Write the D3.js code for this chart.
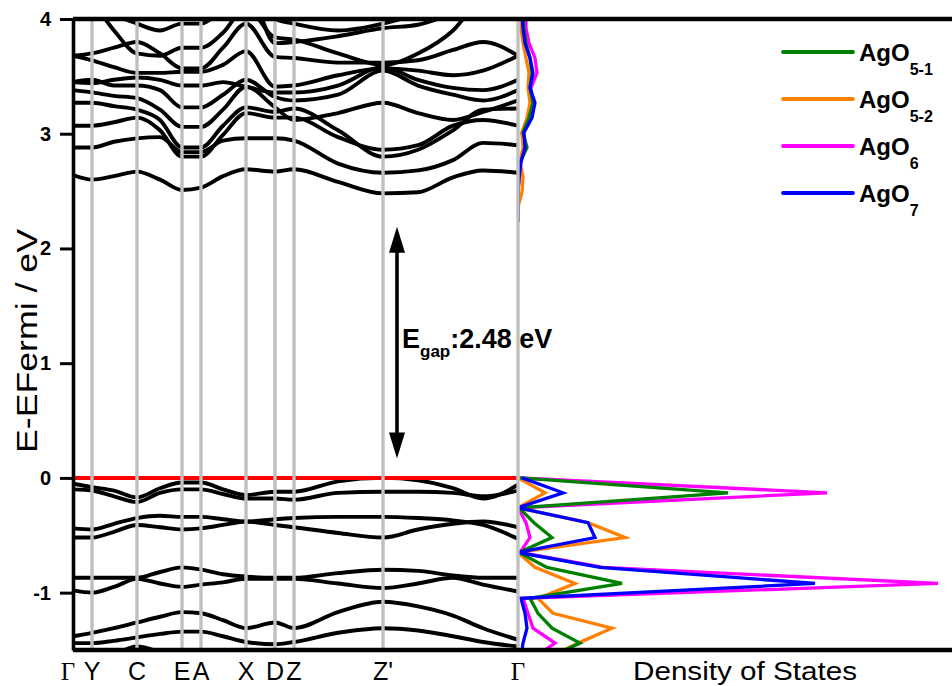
<!DOCTYPE html>
<html>
<head>
<meta charset="utf-8">
<script src="https://cdn.jsdelivr.net/npm/d3@7"></script>
<style>
  body { margin: 0; background: #fff; }
  svg { display: block; font-family: "Liberation Sans", Arial, Helvetica, sans-serif; }
</style>
</head>
<body>
<svg id="chart" width="952" height="686"></svg>
<script>
// ---- k-path: high-symmetry points (path coordinate) ----
const kLabels = ["\u0393", "Y", "C", "E", "A", "X", "D", "Z", "Z'", "\u0393"];
const kTicks  = [0, 19, 64, 109, 128, 173, 202, 221, 310, 445];
// sampling nodes along the path used for every band
const kNodes  = [0, 19, 41, 64, 87, 109, 128, 150, 173, 202, 221, 265, 310, 345, 380, 410, 445];

// ---- valence bands (eV, relative to E_Fermi) ----
const valenceBands = [
  [-0.05, -0.08, -0.11, -0.17, -0.09, -0.04, -0.04, -0.10, -0.15, -0.12, -0.12, -0.03, 0.00, -0.02, -0.09, -0.18, -0.06],
  [-0.10, -0.11, -0.16, -0.21, -0.13, -0.10, -0.10, -0.14, -0.18, -0.18, -0.19, -0.13, -0.12, -0.12, -0.13, -0.16, -0.11],
  [-0.44, -0.45, -0.40, -0.35, -0.33, -0.34, -0.34, -0.36, -0.38, -0.36, -0.35, -0.34, -0.34, -0.35, -0.37, -0.41, -0.53],
  [-0.52, -0.52, -0.47, -0.41, -0.43, -0.45, -0.44, -0.41, -0.38, -0.41, -0.43, -0.48, -0.52, -0.45, -0.40, -0.38, -0.43],
  [-0.87, -0.87, -0.87, -0.87, -0.82, -0.78, -0.80, -0.84, -0.86, -0.87, -0.87, -0.83, -0.80, -0.81, -0.85, -0.87, -0.87],
  [-0.98, -1.00, -0.95, -0.88, -0.92, -0.95, -0.93, -0.91, -0.88, -0.88, -0.88, -0.92, -0.96, -0.92, -0.87, -0.93, -0.99],
  [-1.38, -1.35, -1.31, -1.26, -1.21, -1.17, -1.18, -1.24, -1.31, -1.26, -1.31, -1.17, -1.08, -1.12, -1.20, -1.31, -1.41],
  [-1.44, -1.44, -1.42, -1.39, -1.36, -1.34, -1.34, -1.38, -1.43, -1.45, -1.43, -1.35, -1.31, -1.33, -1.38, -1.43, -1.47],
  [-1.63, -1.60, -1.54, -1.47, -1.52, -1.59, -1.62, -1.65, -1.68, -1.65, -1.65, -1.62, -1.60, -1.60, -1.60, -1.55, -1.51]
];

// ---- conduction bands (eV) ----
const conductionBands = [
  [2.64, 2.60, 2.63, 2.67, 2.60, 2.51, 2.53, 2.63, 2.69, 2.67, 2.69, 2.58, 2.48, 2.49, 2.62, 2.68, 2.66],
  [2.88, 2.88, 2.93, 2.96, 2.97, 2.84, 2.84, 2.94, 2.96, 2.96, 2.94, 2.74, 2.66, 2.68, 2.77, 2.92, 2.90],
  [3.07, 3.07, 3.10, 3.14, 3.03, 2.80, 2.80, 2.99, 3.18, 3.14, 3.14, 2.97, 2.86, 2.90, 3.07, 3.12, 3.07],
  [3.27, 3.27, 3.24, 3.21, 3.12, 2.88, 2.88, 3.07, 3.23, 3.19, 3.22, 3.03, 2.80, 2.86, 3.03, 3.21, 3.22],
  [3.38, 3.36, 3.33, 3.31, 3.21, 3.06, 3.06, 3.21, 3.41, 3.23, 3.12, 3.18, 3.27, 3.18, 3.12, 3.19, 3.29],
  [3.45, 3.47, 3.42, 3.42, 3.38, 3.23, 3.23, 3.34, 3.47, 3.32, 3.29, 3.34, 3.55, 3.42, 3.34, 3.29, 3.38],
  [3.45, 3.44, 3.47, 3.49, 3.47, 3.42, 3.42, 3.45, 3.41, 3.36, 3.36, 3.42, 3.58, 3.47, 3.40, 3.38, 3.47],
  [3.68, 3.64, 3.58, 3.53, 3.53, 3.54, 3.54, 3.60, 3.72, 3.41, 3.42, 3.51, 3.57, 3.55, 3.51, 3.55, 3.68],
  [3.68, 3.70, 3.75, 3.80, 3.70, 3.57, 3.57, 3.75, 3.96, 3.67, 3.66, 3.62, 3.62, 3.64, 3.73, 3.80, 3.68],
  [4.30, 4.15, 3.90, 3.70, 3.68, 3.75, 3.75, 3.88, 4.10, 3.84, 3.82, 3.70, 3.60, 3.70, 3.90, 4.20, 4.30],
  [4.45, 4.25, 4.05, 3.96, 3.90, 3.96, 3.96, 4.10, 4.30, 3.79, 3.80, 3.85, 3.92, 3.95, 4.05, 4.15, 4.45],
  [4.60, 4.50, 4.30, 4.10, 4.00, 4.10, 4.10, 4.30, 4.50, 4.00, 3.96, 3.90, 3.96, 4.05, 4.20, 4.40, 4.60]
];

// ---- partial density of states (arb. units) ----
const dosEnergyVB = [0.00, -0.13, -0.26, -0.39, -0.52, -0.65, -0.78, -0.92, -1.05, -1.18, -1.31, -1.44, -1.57];
const dosEnergyCB = [4.05, 3.92, 3.79, 3.66, 3.53, 3.40, 3.27, 3.14, 3.01, 2.88, 2.75, 2.62, 2.49, 2.36, 2.23];

const dosAgO51VB = [0.2, 21.0, 0.1, 1.6, 3.4, 0.1, 2.9, 10.4, 1.2, 2.0, 3.4, 6.2, 3.0];
const dosAgO52VB = [0.0, 2.7, 0.0, 7.0, 10.7, 0.0, 1.7, 5.7, 2.0, 3.5, 9.4, 6.0, 3.0];
const dosAgO6VB  = [0.1, 30.9, 0.0, 0.8, 1.2, 0.2, 8.5, 42.0, 0.5, 1.0, 1.5, 3.7, 1.5];
const dosAgO7VB  = [0.4, 4.5, 0.0, 7.0, 7.7, 0.0, 8.2, 29.7, 0.3, 0.7, 0.9, 0.5, 0.3];

const dosAgO51CB = [0.5, 0.6, 0.8, 1.2, 1.4, 1.2, 1.5, 1.1, 0.5, 0.9, 0.2, 0.1, 0, 0, 0];
const dosAgO52CB = [0.3, 0.3, 0.5, 0.8, 1.1, 1.0, 1.2, 0.9, 0.4, 0.5, 0.2, 0.5, 0.4, 0, 0];
const dosAgO6CB  = [0.8, 0.8, 1.1, 1.7, 1.9, 1.3, 1.4, 1.0, 0.4, 0.6, 0.2, 0.1, 0, 0, 0];
const dosAgO7CB  = [0.4, 0.5, 0.7, 1.2, 1.5, 1.2, 1.7, 1.4, 0.6, 0.7, 0.3, 0.1, 0, 0, 0];

const seriesNames = ["5-1", "5-2", "6", "7"];
const seriesColors = ["#008000", "#ff8000", "#ff00ff", "#0000ff"];

const yTicks = [4, 3, 2, 1, 0, -1];

// ---- layout ----
const svg = d3.select("#chart");
const x  = d3.scaleLinear().domain([0, 445]).range([73, 518]);
const y  = d3.scaleLinear().domain([-1.5, 4]).range([650, 19]);
const xd = d3.scaleLinear().domain([0, 43.4]).range([518, 952]);

const defs = svg.append("defs");
defs.append("clipPath").attr("id", "clipBands")
  .append("rect").attr("x", x(0)).attr("y", y(4)).attr("width", x(445) - x(0)).attr("height", y(-1.5) - y(4));
defs.append("clipPath").attr("id", "clipDos")
  .append("rect").attr("x", xd(0)).attr("y", y(4)).attr("width", xd(43.4) - xd(0)).attr("height", y(-1.5) - y(4));

// band structure
const bandLine = d3.line()
  .x((d, i) => x(kNodes[i]))
  .y(d => y(d))
  .curve(d3.curveMonotoneX);

const gBands = svg.append("g").attr("clip-path", "url(#clipBands)");
gBands.selectAll("path.band")
  .data(valenceBands.concat(conductionBands))
  .join("path")
  .attr("class", "band")
  .attr("d", bandLine)
  .attr("fill", "none")
  .attr("stroke", "#000")
  .attr("stroke-width", 3.9)
  .attr("stroke-linejoin", "round");

// Fermi level
svg.append("line")
  .attr("x1", x(0)).attr("x2", x(445))
  .attr("y1", y(0)).attr("y2", y(0))
  .attr("stroke", "#ff0000").attr("stroke-width", 4);

// partial DOS
const dosLine = d3.line().x(d => xd(d[1])).y(d => y(d[0]));
const dosVB = [dosAgO51VB, dosAgO52VB, dosAgO6VB, dosAgO7VB];
const dosCB = [dosAgO51CB, dosAgO52CB, dosAgO6CB, dosAgO7CB];
const gDos = svg.append("g").attr("clip-path", "url(#clipDos)");
[2, 1, 0, 3].forEach(i => {
  gDos.append("path")
    .attr("d", dosLine(d3.zip(dosEnergyVB, dosVB[i])))
    .attr("fill", "none").attr("stroke", seriesColors[i])
    .attr("stroke-width", 3.3).attr("stroke-linejoin", "miter");
  gDos.append("path")
    .attr("d", dosLine(d3.zip(dosEnergyCB, dosCB[i])))
    .attr("fill", "none").attr("stroke", seriesColors[i])
    .attr("stroke-width", 3.3).attr("stroke-linejoin", "round");
});

// high-symmetry separators
svg.append("g").selectAll("line")
  .data(kTicks.slice(1))
  .join("line")
  .attr("x1", d => x(d)).attr("x2", d => x(d))
  .attr("y1", y(4)).attr("y2", y(-1.5))
  .attr("stroke", "#c0c0c0").attr("stroke-width", 3.4);

// frame lines
svg.append("line").attr("x1", x(0)).attr("x2", 952).attr("y1", y(4)).attr("y2", y(4))
  .attr("stroke", "#000").attr("stroke-width", 4.5);
svg.append("line").attr("x1", x(0)).attr("x2", 952).attr("y1", y(-1.5)).attr("y2", y(-1.5))
  .attr("stroke", "#000").attr("stroke-width", 4.5);

// energy axis
const yAxis = d3.axisLeft(y).tickValues(yTicks).tickSize(13).tickSizeOuter(0).tickPadding(9)
  .tickFormat(d => String(d));
const gy = svg.append("g").attr("transform", `translate(${x(0)},0)`).call(yAxis);
gy.select(".domain").attr("stroke", "#000").attr("stroke-width", 3.6);
gy.selectAll(".tick line").attr("stroke", "#000").attr("stroke-width", 3);
gy.selectAll(".tick text")
  .attr("font-family", "'Liberation Sans', Arial, sans-serif")
  .attr("font-size", 20).attr("font-weight", "bold").attr("fill", "#000");

svg.append("text")
  .attr("transform", `translate(37,341) rotate(-90)`)
  .attr("text-anchor", "middle")
  .attr("font-size", 29)
  .attr("textLength", 224).attr("lengthAdjust", "spacingAndGlyphs")
  .text("E-EFermi / eV");

// k-point labels
svg.append("g").selectAll("text")
  .data(kTicks)
  .join("text")
  .attr("x", (d, i) => x(d) + (i === 0 ? -5 : 0))
  .attr("y", 680)
  .attr("text-anchor", "middle")
  .attr("font-size", 25)
  .style("font-family", (d, i) => kLabels[i] === "\u0393" ? "'Liberation Serif', 'DejaVu Serif', serif" : null)
  .text((d, i) => kLabels[i]);

svg.append("text")
  .attr("x", 745).attr("y", 680)
  .attr("text-anchor", "middle")
  .attr("font-size", 25)
  .attr("textLength", 224).attr("lengthAdjust", "spacingAndGlyphs")
  .text("Density of States");

// band gap annotation
const vbm = d3.max(valenceBands.flat());
const cbm = d3.min(conductionBands.flat());
const gap = cbm - vbm;
const ax = x(324);
const aTop = y(2.19), aBot = y(0.17);
svg.append("line").attr("x1", ax).attr("x2", ax).attr("y1", aTop + 20).attr("y2", aBot - 20)
  .attr("stroke", "#000").attr("stroke-width", 3.6);
svg.append("path")
  .attr("d", `M${ax},${aTop} L${ax - 8},${aTop + 26} L${ax + 8},${aTop + 26} Z`)
  .attr("fill", "#000");
svg.append("path")
  .attr("d", `M${ax},${aBot} L${ax - 8},${aBot - 26} L${ax + 8},${aBot - 26} Z`)
  .attr("fill", "#000");

const gapText = svg.append("text")
  .attr("x", ax + 5).attr("y", y(1.13))
  .attr("font-weight", "bold").attr("font-size", 27);
gapText.append("tspan").text("E");
gapText.append("tspan").attr("font-size", 17).attr("dy", 9).text("gap");
gapText.append("tspan").attr("dy", -9).text(":" + gap.toFixed(2) + " eV");

// legend
const legendRows = [0, 1, 2, 3];
const gLeg = svg.append("g");
legendRows.forEach((i, r) => {
  const ly = 52 + r * 47;
  gLeg.append("line").attr("x1", 783).attr("x2", 853).attr("y1", ly).attr("y2", ly)
    .attr("stroke", seriesColors[i]).attr("stroke-width", 3.8).attr("stroke-linecap", "round");
  const t = gLeg.append("text").attr("x", 859).attr("y", ly + 9)
    .attr("font-weight", "bold").attr("font-size", 24);
  t.append("tspan").text("AgO");
  t.append("tspan").attr("font-size", 16).attr("dy", 14).text(seriesNames[i]);
});
</script>
</body>
</html>
